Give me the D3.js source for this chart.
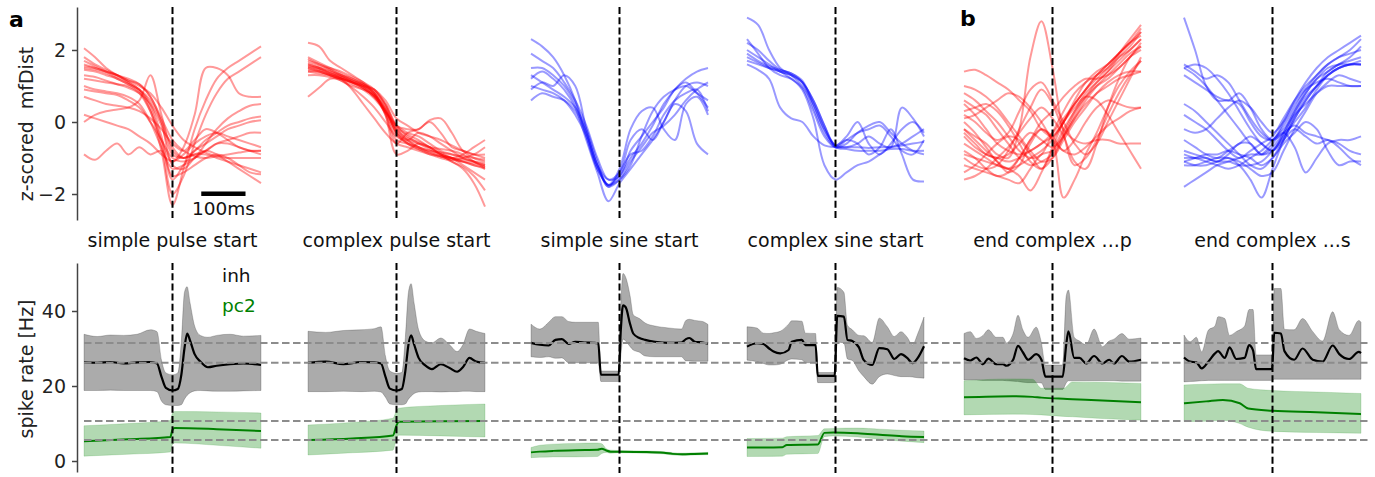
<!DOCTYPE html>
<html>
<head>
<meta charset="utf-8">
<script src="https://cdn.jsdelivr.net/npm/d3@7"></script>
<style>
  html, body { margin: 0; padding: 0; background: #fff; }
  svg { display: block; font-family: "DejaVu Sans", sans-serif; }
</style>
</head>
<body>
<svg id="chart" width="1375" height="477"></svg>
<script>
// ---- data: top row, z-scored mfDist traces (time in ms relative to event) ----
const traceTimes = [-200,-175,-150,-125,-100,-75,-50,-25,0,25,50,75,100,125,150,175,200];

const simplePulseTraces = [
  [1.6,1.5,1.4,1.3,1.15,1.0,0.8,0.4,-0.1,-0.5,-0.7,-0.85,-0.95,-1.0,-1.0,-1.0,-1.0],
  [1.7,1.55,1.4,1.25,1.1,0.9,0.5,-0.4,-1.6,-1.2,-0.8,-0.6,-0.4,-0.2,-0.1,0.0,0.05],
  [1.5,1.45,1.35,1.2,1.05,0.85,0.3,-0.8,-2.3,-1.3,-0.2,0.6,1.2,1.5,1.7,1.9,2.1],
  [1.55,1.5,1.4,1.3,1.1,0.9,0.4,-0.6,-2.0,-1.5,-0.6,0.2,0.8,1.2,1.4,1.6,1.8],
  [2.05,1.8,1.5,1.3,1.15,1.05,0.7,0.0,-1.2,-1.3,-1.0,-0.8,-0.9,-1.1,-1.3,-1.5,-1.7],
  [1.2,1.15,1.1,1.05,1.0,0.8,0.3,-0.5,-1.1,-0.7,0.2,1.5,1.5,1.3,0.8,0.7,0.7],
  [0.7,0.6,0.5,0.45,0.4,0.3,0.1,-0.2,-0.6,-0.8,-0.5,-0.2,-0.3,-0.5,-0.7,-0.8,-0.8],
  [0.2,0.1,0.0,-0.1,-0.2,-0.4,-0.6,-0.9,-1.1,-0.9,-0.6,-0.4,-0.3,-0.4,-0.5,-0.6,-0.7],
  [-0.9,-1.05,-0.8,-0.6,-0.9,-0.7,-0.9,-0.8,-1.5,-1.4,-1.2,-1.0,-0.9,-1.0,-1.2,-1.4,-1.45],
  [0.0,0.2,0.3,0.35,0.4,0.6,1.3,0.2,-0.8,-1.0,-0.9,-0.8,-0.6,-0.5,-0.4,-0.3,-0.3],
  [1.0,0.9,0.85,0.8,0.7,0.5,0.0,-0.7,-1.3,-1.2,-1.0,-0.6,-0.2,0.1,0.3,0.45,0.5],
  [1.3,1.25,1.15,1.05,0.95,0.8,0.5,-0.1,-0.9,-1.0,-0.9,-0.9,-1.0,-1.1,-1.2,-1.3,-1.4],
  [1.8,1.6,1.45,1.3,1.2,1.05,0.7,0.1,-0.5,-0.8,-0.95,-1.0,-0.95,-0.9,-0.85,-0.8,-0.8],
  [1.45,1.4,1.3,1.2,1.05,0.9,0.6,0.0,-0.7,-1.0,-0.8,-0.5,-0.3,-0.1,0.0,0.1,0.15],
  [0.9,0.85,0.8,0.75,0.6,0.4,0.0,-0.5,-1.0,-1.1,-1.0,-0.8,-0.6,-0.6,-0.7,-0.8,-0.9]
];

const complexPulseTraces = [
  [1.6,1.5,1.4,1.25,1.1,0.95,0.7,0.3,-0.2,-0.5,-0.7,-0.8,-0.9,-1.0,-1.05,-1.1,-1.15],
  [1.7,1.6,1.45,1.3,1.15,1.0,0.8,0.35,-0.3,-0.6,-0.75,-0.85,-0.95,-1.05,-1.1,-1.2,-1.25],
  [2.2,2.1,1.7,1.5,1.3,1.1,0.8,0.3,-0.1,-0.3,-0.4,-0.6,-0.8,-0.9,-1.0,-1.1,-1.2],
  [1.5,1.45,1.35,1.2,0.9,0.5,0.1,-0.3,-0.6,-0.7,-0.8,-0.9,-1.0,-1.1,-1.3,-1.7,-2.35],
  [1.4,1.35,1.3,1.2,1.1,1.0,0.9,0.5,-0.1,-0.2,-0.2,0.05,0.1,-0.3,-0.8,-1.0,-1.1],
  [0.7,0.95,1.2,1.2,1.1,1.0,0.75,0.2,-0.6,-0.3,-0.2,0.0,-0.3,-0.7,-0.8,-0.9,-0.9],
  [1.55,1.5,1.4,1.3,1.2,1.05,0.8,0.2,-0.9,-0.8,-0.6,-0.7,-0.9,-1.0,-1.2,-1.4,-1.6],
  [1.8,1.65,1.5,1.35,1.2,1.05,0.85,0.5,-0.1,-0.4,-0.6,-0.75,-0.9,-1.0,-0.9,-0.7,-0.5],
  [1.45,1.4,1.3,1.2,1.1,0.95,0.7,0.25,-0.5,-0.6,-0.7,-0.8,-0.85,-0.9,-0.95,-1.0,-1.05],
  [1.65,1.55,1.45,1.3,1.15,1.0,0.75,0.35,-0.2,-0.45,-0.55,-0.7,-0.85,-1.0,-1.1,-1.2,-1.3],
  [1.5,1.4,1.3,1.15,0.95,0.7,0.4,0.0,-0.4,-0.55,-0.7,-0.85,-0.95,-1.0,-1.1,-1.15,-1.2],
  [1.6,1.5,1.35,1.25,1.15,1.05,0.9,0.6,0.1,-0.1,-0.3,-0.4,-0.5,-0.65,-0.8,-0.9,-1.0],
  [1.3,1.3,1.25,1.15,1.0,0.9,0.75,0.4,-0.3,-0.5,-0.6,-0.7,-0.75,-0.8,-0.9,-1.1,-1.3],
  [1.75,1.6,1.5,1.4,1.25,1.1,0.9,0.45,-0.15,-0.35,-0.5,-0.7,-0.9,-1.1,-1.25,-1.5,-1.9],
  [1.55,1.45,1.35,1.25,1.1,0.95,0.7,0.3,-0.25,-0.5,-0.3,-0.4,-0.6,-0.8,-1.0,-1.1,-1.25],
  [1.4,1.4,1.3,1.2,1.05,0.9,0.65,0.25,-0.35,-0.6,-0.75,-0.9,-0.95,-1.05,-1.0,-0.9,-0.7]
];

const simpleSineTraces = [
  [2.3,2.1,1.8,1.3,0.6,-0.4,-1.3,-1.75,-1.6,-1.2,-0.4,0.3,0.7,0.9,1.0,0.8,0.6],
  [1.5,1.5,1.3,1.0,0.5,-0.3,-1.2,-1.75,-1.5,-1.0,-0.6,-0.1,0.5,0.9,1.2,1.4,1.5],
  [1.2,1.4,1.2,0.9,0.4,-0.5,-1.4,-2.2,-1.7,-1.3,-0.9,-0.5,0.0,0.6,1.0,1.1,1.0],
  [0.9,1.1,1.0,1.3,1.0,-0.2,-1.2,-1.6,-1.4,-0.5,-0.2,-0.5,0.0,0.5,0.3,-0.6,-0.9],
  [0.6,0.8,0.7,0.6,0.3,-0.3,-1.2,-1.8,-1.4,-0.9,-0.8,-0.4,0.2,0.6,0.8,0.9,0.3],
  [1.0,0.9,0.8,0.6,0.2,-0.4,-1.3,-1.75,-1.3,-0.2,0.3,0.4,-0.2,-0.5,0.5,0.7,0.2],
  [1.9,1.7,1.5,1.1,0.6,-0.1,-1.0,-1.6,-1.5,-0.8,-0.4,0.0,0.4,0.9,1.1,0.8,0.4],
  [1.3,1.1,0.9,0.7,0.4,-0.2,-1.1,-1.8,-1.6,-1.1,-0.7,-0.3,-0.1,0.2,0.6,0.9,1.1]
];

const complexSineTraces = [
  [2.9,2.7,2.0,1.5,1.3,1.0,0.5,-0.2,-0.65,-0.7,-0.7,-0.72,-0.7,-0.7,-0.65,-0.6,-0.55],
  [2.2,2.0,1.7,1.45,1.35,1.1,0.4,-0.3,-0.7,-0.6,-0.3,-0.1,0.0,-0.3,-0.6,-0.8,-0.9],
  [2.0,1.8,1.6,1.4,1.3,1.1,0.6,-0.1,-0.65,-0.5,-0.6,-0.9,-0.7,-0.2,-0.9,-1.6,-1.65],
  [1.7,1.6,1.5,1.4,1.3,1.1,0.6,-0.1,-0.7,-0.75,-0.8,-0.8,-0.8,-0.75,-0.75,-0.8,-0.8],
  [1.9,1.7,1.55,1.45,1.35,1.15,0.5,-0.2,-0.65,-0.4,0.0,-0.6,-0.9,-0.6,-0.2,0.0,-0.3],
  [1.6,1.45,1.2,0.4,0.1,0.0,-0.4,-0.65,-0.7,-0.7,-0.6,-0.4,-0.6,-0.7,0.4,0.1,-0.4],
  [2.3,1.9,1.5,1.3,1.2,0.9,0.1,-1.2,-1.6,-1.4,-1.2,-1.1,-0.9,-0.7,-0.6,-0.4,-0.2],
  [1.8,1.65,1.5,1.4,1.2,0.95,0.3,-0.4,-0.7,-0.5,-0.3,-0.2,-0.1,-0.4,-0.8,-0.9,-0.5]
];

const endPulseTraces = [
  [-0.2,-0.4,-0.6,-0.9,-1.0,-0.2,1.8,2.8,1.5,-0.3,-1.2,-1.0,-0.5,0.2,0.8,1.3,1.7],
  [1.4,1.45,1.3,1.1,0.9,0.6,0.3,-0.2,-0.4,0.0,0.6,1.1,1.4,1.6,1.9,2.2,2.5],
  [0.5,0.2,-0.2,-0.6,-0.8,-0.9,-0.8,-0.6,-0.4,0.0,0.5,0.9,1.3,1.6,1.9,2.2,2.6],
  [-0.3,-0.6,-0.9,-1.0,-1.1,-1.0,-0.8,-0.6,-0.3,0.1,0.5,0.9,1.3,1.6,1.9,2.2,2.4],
  [-1.6,-1.5,-1.3,-1.0,-0.7,-0.3,0.1,0.4,0.1,-0.4,-1.1,-1.3,-0.6,0.4,1.2,1.8,2.1],
  [0.0,-0.3,-0.7,-1.1,-1.3,-1.0,-0.5,-0.2,-0.5,-2.1,-1.6,-0.9,-0.3,0.4,1.0,1.4,1.7],
  [1.0,0.9,0.7,0.4,0.0,-0.4,-0.8,-1.1,-1.0,-0.5,0.0,0.4,0.8,1.1,1.3,1.4,1.4],
  [-0.6,-0.8,-1.0,-1.2,-1.3,-1.2,-1.0,-0.8,-0.5,0.0,0.4,0.7,0.6,0.2,-0.3,-0.8,-1.3],
  [0.1,0.2,0.4,0.6,0.8,0.7,0.4,0.0,-0.5,-0.8,-0.9,-0.7,-0.4,-0.1,0.1,0.3,0.4],
  [-1.0,-1.2,-1.3,-1.2,-0.8,-0.2,0.4,0.9,0.5,-0.2,-0.5,-0.6,-0.5,-0.5,-0.6,-0.6,-0.6],
  [0.6,0.4,0.2,-0.2,-0.6,-1.0,-1.2,-1.1,-0.9,-0.4,0.1,0.6,1.0,1.3,1.6,1.9,2.1],
  [-0.8,-1.0,-1.3,-1.5,-1.4,-1.0,-0.5,0.0,0.3,0.7,1.0,1.2,1.2,1.3,1.5,1.8,2.0],
  [-1.2,-1.3,-1.4,-1.5,-1.6,-1.7,-1.3,-0.9,-0.8,-0.3,0.3,0.8,1.1,1.4,1.7,2.0,2.3],
  [0.2,0.0,-0.3,-0.5,-0.3,0.3,0.9,1.1,0.6,0.0,-0.6,-0.9,-0.6,0.0,0.6,1.2,1.8],
  [-0.4,-0.7,-0.9,-1.0,-0.9,-0.6,-0.3,-0.5,-0.7,-0.4,0.1,0.5,0.8,1.0,1.2,1.3,1.4],
  [0.8,0.6,0.3,0.0,-0.4,-0.8,-1.0,-0.9,-0.3,0.3,0.8,1.1,1.3,1.5,1.8,2.0,2.3],
  [-1.4,-1.2,-0.9,-0.6,-0.4,-0.5,-0.9,-1.3,-1.0,-0.4,0.2,0.7,1.1,1.4,1.8,2.1,2.5],
  [0.3,0.4,0.5,0.3,-0.1,-0.6,-1.1,-1.3,-0.8,-0.2,0.3,0.7,1.0,1.2,1.5,1.8,2.2],
  [-0.2,-0.5,-0.8,-1.1,-1.4,-1.2,-0.6,-0.2,-0.4,-0.8,-0.5,0.0,0.4,0.6,0.5,0.4,0.4],
  [-0.9,-1.0,-1.1,-1.2,-1.3,-1.5,-1.9,-1.4,-0.7,0.0,0.5,0.9,1.2,1.5,1.9,2.3,2.7]
];

const endSineTraces = [
  [2.9,2.0,1.0,0.6,0.6,0.5,0.0,-0.4,-0.5,0.0,0.6,1.1,1.5,1.8,2.0,2.2,2.4],
  [1.5,1.6,1.5,1.2,0.8,0.3,-0.2,-0.6,-0.8,-0.3,0.3,0.8,1.2,1.5,1.6,1.6,1.6],
  [1.6,1.4,1.2,1.3,1.1,0.6,0.1,-0.3,-0.5,-0.1,0.4,0.9,1.3,1.6,1.8,2.0,2.3],
  [-0.2,-0.3,-0.2,0.1,0.4,0.6,0.4,0.0,-0.3,0.0,0.5,0.9,1.1,1.2,1.1,1.0,1.0],
  [-0.5,-0.7,-0.9,-1.0,-0.8,-0.6,-0.4,-0.6,-0.8,-0.5,-0.2,-0.4,-0.6,-0.5,-0.7,-1.0,-1.2],
  [-1.1,-1.2,-1.2,-1.1,-1.0,-1.2,-1.6,-2.1,-1.3,-0.5,0.1,0.6,1.0,1.3,1.5,1.6,1.7],
  [-1.0,-1.0,-1.1,-1.2,-1.3,-1.2,-1.0,-0.8,-0.5,-0.2,0.3,0.8,1.2,1.4,1.6,1.7,1.8],
  [-1.8,-1.6,-1.4,-1.2,-1.1,-1.0,-0.9,-0.9,-0.6,-0.3,-0.7,-1.4,-1.0,-0.6,-0.5,-0.5,-0.4],
  [0.2,0.0,-0.2,-0.5,-0.8,-1.0,-0.8,-0.6,-0.4,0.1,0.6,1.0,1.3,1.6,1.8,1.9,2.0],
  [-0.9,-1.0,-1.0,-1.1,-1.1,-1.2,-1.2,-1.1,-0.8,-0.4,0.0,0.4,0.9,1.3,1.5,1.6,1.6],
  [1.3,1.1,0.9,0.7,0.6,0.8,0.4,-0.2,-0.5,-0.3,-0.1,-0.3,-0.4,-0.5,-0.6,-0.8,-0.9],
  [-1.1,-1.0,-0.9,-0.9,-0.8,-0.9,-1.0,-1.2,-1.0,-0.6,-0.3,0.0,-0.2,-0.8,-1.2,-1.1,-1.1],
  [0.5,0.3,0.0,-0.3,-0.6,-0.9,-1.2,-1.3,-1.0,-0.5,0.1,0.6,1.0,1.4,1.6,1.8,2.1],
  [-0.8,-0.9,-1.0,-1.1,-0.9,-0.6,-0.6,-0.9,-0.7,-0.3,0.2,0.5,0.8,1.0,1.0,1.0,1.0],
  [1.5,1.3,1.0,0.6,0.2,-0.2,-0.6,-0.9,-0.8,-0.4,0.2,0.7,1.0,1.3,1.5,1.6,1.6],
  [-1.2,-1.2,-1.1,-1.0,-1.0,-1.1,-1.3,-1.5,-1.4,-0.8,-0.2,0.3,0.8,1.1,1.3,1.2,1.1]
];

const topLabels = ["simple pulse start", "complex pulse start", "simple sine start",
                   "complex sine start", "end complex ...p", "end complex ...s"];

// ---- data: bottom row, spike rates [Hz] (mean and band) ----
// sp = simple pulse, cp = complex pulse, ss = simple sine, cs = complex sine,
// ep = end complex ...p, es = end complex ...s
const spInhT    = [-200,-170,-140,-110,-80,-50,-35,-25,-15,0,12,20,27,33,40,50,63,80,100,130,160,200];
const spInhMean = [26.3,26.2,26.4,26.0,26.3,26.4,26.0,22.5,19.5,18.8,19.2,23,30,34,32,28.5,26.5,25,25.4,25.8,26,25.6];
const spInhHi   = [33.8,33.2,33.6,33.5,33.8,35,34.5,27,23.5,23,23.5,32,45,46.5,42,36,33.5,33,33.5,33.8,33.3,33.5];
const spInhLo   = [18.8,18.8,18.9,18.8,18.8,18.8,18.5,16,15,14.8,14.8,15,16.5,17.5,18.2,18.7,18.8,18.7,18.6,18.6,18.7,18.8];
const spPc2T    = [-200,-100,-5,0,5,100,200];
const spPc2Mean = [5.3,5.8,6.4,8.3,8.8,8.5,8.0];
const spPc2Hi   = [9.4,10.0,10.8,12.8,13.2,13.1,12.8];
const spPc2Lo   = [1.3,1.8,2.4,4.4,4.8,4.2,3.4];

const cpInhT    = [-200,-160,-120,-80,-50,-35,-25,-15,0,12,20,27,33,40,50,65,80,100,120,137,150,165,180,200];
const cpInhMean = [26.2,26.5,25.8,26.4,26.3,26.0,22.5,19.3,18.8,19.2,24,31,33.5,31,27.5,25.5,24.5,25.8,24.8,23.8,25,27.5,26.5,26.2];
const cpInhHi   = [34.6,34.3,34.8,35.0,35.3,35.8,28,24,23.4,23.6,33,45,47.3,42,35,32,31.5,32.8,31,29.2,31,35.2,34.6,34];
const cpInhLo   = [18.5,18.5,18.6,18.5,18.6,18.4,17,15.2,15,15,15.2,16.5,17.3,18,18.4,18.5,18.5,18.4,18.5,18.5,18.6,18.6,18.5,18.5];
const cpPc2T    = [-200,-100,-8,0,5,100,200];
const cpPc2Mean = [5.6,6.0,6.8,9.5,10.5,10.6,10.7];
const cpPc2Hi   = [9.6,10.3,11.4,13.5,14.1,14.8,15.2];
const cpPc2Lo   = [1.6,2.2,2.9,6.0,6.9,6.7,6.4];

const ssInhT    = [-200,-180,-160,-145,-130,-115,-100,-80,-60,-48,-42,-2,3,8,14,24,31,45,58,80,110,140,150,158,170,188,200];
const ssInhMean = [31.5,31.0,30.8,32.3,32.5,31.2,31.8,31.6,31.5,31.4,23,23,35,41.5,41,36.5,34,32.8,32.3,31.8,31.5,31.6,32.5,32.8,31.8,31.6,31.3];
const ssInhHi   = [36.5,35.2,37,38.5,38.5,37.2,37,37,37,37,24,24,42,50,49,44,39,38,36.8,36,35.5,35.2,37.5,37.8,37.5,37.2,36.4];
const ssInhLo   = [27.8,27.6,27.8,27.4,27.5,26.2,26.2,26.2,26.2,26.2,21.2,21.2,28,32.5,32,30.5,29.6,29,28,27.8,27.8,27.8,26.7,26.7,26.6,26.6,26.6];
const ssPc2T    = [-200,-180,-150,-100,-50,-40,-30,-20,0,50,100,120,142,170,200];
const ssPc2Mean = [2.3,2.5,2.7,2.9,3.0,3.3,2.8,2.5,2.5,2.4,2.2,1.9,1.8,1.9,2.0];
const ssPc2Hi   = [3.6,4.2,4.5,4.7,4.8,4.6,3.3,2.9,2.8,2.7,2.5,2.2,2.1,2.2,2.3];
const ssPc2Lo   = [0.9,1.0,1.1,1.1,1.2,2.0,2.3,2.1,2.2,2.1,1.9,1.6,1.5,1.6,1.7];

const csInhT    = [-200,-178,-163,-150,-140,-125,-106,-99,-76,-68,-45,-40,-2,4,19,27,38,53,64,83,99,117,133,148,162,174,186,200];
const csInhMean = [30.5,31.4,31.2,30.0,29.2,28.7,29.6,31.8,32.3,30.9,30.9,22.7,22.7,38.7,38.5,32.3,32.0,30.3,26.9,25.6,30.1,29.8,27.2,28.5,27.5,26.1,27.5,30.6];
const csInhHi   = [35.8,35.5,34.1,34.0,34.2,34.6,36.5,37.4,37.3,34.1,34.0,23.6,23.6,46.3,45,36.2,35,33.5,33.4,31.6,38.1,35.8,33.2,34.5,33,31,34,38.4];
const csInhLo   = [26.9,26.5,26.0,25.6,25.6,25.8,27,27.2,27,26.2,26.2,20.9,20.9,31.7,31.5,27.2,26.8,24,22.5,20.5,22.5,23.2,22.8,22.5,22.5,22.4,22.2,22.1];
const csPc2T    = [-200,-120,-110,-40,-25,-5,50,100,150,200];
const csPc2Mean = [3.6,3.7,4.3,4.4,7.5,7.6,7.4,7.0,6.6,6.4];
const csPc2Hi   = [6.0,6.1,6.5,6.8,8.6,8.7,8.8,8.5,8.2,8.0];
const csPc2Lo   = [1.2,1.3,1.8,2.0,6.5,6.7,6.4,5.8,5.3,4.9];

const epInhT    = [-200,-186,-172,-157,-145,-127,-112,-104,-89,-78,-67,-55,-37,-25,-16,23,31,36,49,61,76,94,113,128,139,157,173,200];
const epInhMean = [27.4,26.8,27.6,25.8,27.3,25.8,25.8,25.4,27,30.7,29,27,28.5,27,22.5,22.5,31,34.6,27.5,27.5,26,28,26,27,26,28,26.5,27];
const epInhHi   = [34,34.5,32.7,33.5,35,33,33,31.5,34,38.9,35,33,35.7,31.5,25.6,25.6,44,45.6,33,32,31,35.2,30.5,32,32.5,34,32.5,32.8];
const epInhLo   = [21.6,21.6,21.6,21.5,21.5,21.5,21.5,21.4,21.3,21.2,21.0,20.9,20.9,20.8,19.1,19.1,20.8,21.4,21.4,21.4,21.4,21.4,21.4,21.4,21.4,21.3,21.3,21.3];
const epPc2T    = [-200,-90,-45,-25,25,45,100,200];
const epPc2Mean = [17.0,17.3,17.1,16.9,16.6,16.5,16.2,15.7];
const epPc2Hi   = [21.4,21.9,21.8,19.4,19.4,21.1,21.0,20.7];
const epPc2Lo   = [12.3,12.5,12.4,12.3,11.9,11.8,11.4,10.9];

const esInhT    = [-200,-186,-172,-160,-145,-130,-123,-108,-97,-82,-63,-53,-44,-37,-1,4,19,27,49,68,91,113,136,151,173,195,200];
const esInhMean = [27.6,26.5,26.3,24.7,26.5,28.7,29.3,27.5,30.3,27.2,27.5,30.9,29.5,24.5,24.5,34.2,34.0,29.3,27,30,27,26.5,30.8,28.5,27.2,29.1,28.8];
const esInhHi   = [33.6,31.8,33,29.1,34.9,36,38.5,38,33.5,34.5,36,40.4,40.4,28.3,28.3,46,46,35.1,35,38,34.5,32,39.8,35,33.5,37.5,37];
const esInhLo   = [21.1,21.2,21.3,21.4,21.5,21.5,21.5,21.5,21.5,21.5,21.5,21.5,21.5,21.5,21.5,21.8,21.8,21.8,21.8,21.8,21.8,21.8,21.8,21.8,21.8,21.8,21.8];
const esPc2T    = [-200,-150,-112,-74,-55,0,100,200];
const esPc2Mean = [15.4,15.9,16.3,15.4,14.0,13.4,13.0,12.5];
const esPc2Hi   = [20.3,20.5,20.6,20.6,19.4,18.8,18.4,18.0];
const esPc2Lo   = [10.5,10.6,10.8,10.0,9.0,7.9,7.6,7.4];

// reference rate levels (dashed grey lines across the bottom row)
const refRates = [31.5, 26.2, 10.7, 5.6];

// ---- assemble ----
const topPanels = [
  { label: topLabels[0], color: "#ff0000", traces: simplePulseTraces },
  { label: topLabels[1], color: "#ff0000", traces: complexPulseTraces },
  { label: topLabels[2], color: "#0000ff", traces: simpleSineTraces },
  { label: topLabels[3], color: "#0000ff", traces: complexSineTraces },
  { label: topLabels[4], color: "#ff0000", traces: endPulseTraces },
  { label: topLabels[5], color: "#0000ff", traces: endSineTraces }
];

const rows = (t, mean, hi, lo) => t.map((v, i) => ({ t: v, mean: mean[i], hi: hi[i], lo: lo[i] }));
const bottomPanels = [
  { inh: rows(spInhT, spInhMean, spInhHi, spInhLo), pc2: rows(spPc2T, spPc2Mean, spPc2Hi, spPc2Lo) },
  { inh: rows(cpInhT, cpInhMean, cpInhHi, cpInhLo), pc2: rows(cpPc2T, cpPc2Mean, cpPc2Hi, cpPc2Lo) },
  { inh: rows(ssInhT, ssInhMean, ssInhHi, ssInhLo), pc2: rows(ssPc2T, ssPc2Mean, ssPc2Hi, ssPc2Lo) },
  { inh: rows(csInhT, csInhMean, csInhHi, csInhLo), pc2: rows(csPc2T, csPc2Mean, csPc2Hi, csPc2Lo) },
  { inh: rows(epInhT, epInhMean, epInhHi, epInhLo), pc2: rows(epPc2T, epPc2Mean, epPc2Hi, epPc2Lo) },
  { inh: rows(esInhT, esInhMean, esInhHi, esInhLo), pc2: rows(esPc2T, esPc2Mean, esPc2Hi, esPc2Lo) }
];

// ---- layout ----
const svg = d3.select("#chart");
const panelX = [84, 308, 531, 747, 964, 1184];
const panelW = 177;
const axisX = 77;

const topY = d3.scaleLinear().domain([-2.722, 3.194]).range([220, 7]);
const botY = d3.scaleLinear().domain([-2.933, 52.8]).range([472, 263]);
const xFor = i => d3.scaleLinear().domain([-200, 200]).range([panelX[i], panelX[i] + panelW]);

// bottom row: bands + means
bottomPanels.forEach((p, i) => {
  const x = xFor(i);
  const g = svg.append("g");
  const area = d3.area().x(d => x(d.t)).y0(d => botY(d.lo)).y1(d => botY(d.hi)).curve(d3.curveMonotoneX);
  const line = d3.line().x(d => x(d.t)).y(d => botY(d.mean)).curve(d3.curveMonotoneX);

  g.append("path").datum(p.inh).attr("d", area)
    .attr("fill", "#000").attr("fill-opacity", 0.33)
    .attr("stroke", "#000").attr("stroke-opacity", 0.2).attr("stroke-width", 1);
  g.append("path").datum(p.inh).attr("d", line)
    .attr("fill", "none").attr("stroke", "#000").attr("stroke-width", 2.2);

  g.append("path").datum(p.pc2).attr("d", area)
    .attr("fill", "#008000").attr("fill-opacity", 0.3)
    .attr("stroke", "#008000").attr("stroke-opacity", 0.15).attr("stroke-width", 1);
  g.append("path").datum(p.pc2).attr("d", line)
    .attr("fill", "none").attr("stroke", "#008000").attr("stroke-width", 2);
});

// grey dashed reference levels
svg.append("g").selectAll("line").data(refRates).join("line")
  .attr("x1", panelX[0]).attr("x2", 1370)
  .attr("y1", d => botY(d)).attr("y2", d => botY(d))
  .attr("stroke", "#8c8c8c").attr("stroke-width", 2)
  .attr("stroke-dasharray", "7.5,3.5");

// top row traces
topPanels.forEach((p, i) => {
  const x = xFor(i);
  const line = d3.line()
    .x((d, k) => x(traceTimes[k]))
    .y(d => topY(d))
    .curve(d3.curveCatmullRom);
  svg.append("g").selectAll("path").data(p.traces).join("path")
    .attr("d", line).attr("fill", "none")
    .attr("stroke", p.color).attr("stroke-opacity", 0.4).attr("stroke-width", 2);

  svg.append("text")
    .attr("x", x(0)).attr("y", 247)
    .attr("text-anchor", "middle")
    .attr("font-size", 19).attr("fill", "#111")
    .text(p.label);
});

// event markers (black dashed verticals)
panelX.forEach((px, i) => {
  const x = xFor(i);
  [[7, 220], [263, 473]].forEach(([y1, y2]) => {
    svg.append("line")
      .attr("x1", x(0)).attr("x2", x(0)).attr("y1", y1).attr("y2", y2)
      .attr("stroke", "#000").attr("stroke-width", 2)
      .attr("stroke-dasharray", "7,3.2");
  });
});

// axes
function styleAxis(g) {
  g.attr("font-family", null).attr("font-size", null);
  g.select(".domain").attr("stroke", "#444").attr("stroke-width", 1.5);
  g.selectAll(".tick line").attr("stroke", "#444").attr("stroke-width", 1.5);
  g.selectAll(".tick text").attr("font-size", 19).attr("fill", "#222");
}
svg.append("g").attr("transform", `translate(${axisX},0)`)
  .call(d3.axisLeft(topY).tickValues([-2, 0, 2]).tickFormat(d3.format("d"))
    .tickSize(5).tickSizeOuter(0).tickPadding(6))
  .call(styleAxis);
svg.append("g").attr("transform", `translate(${axisX},0)`)
  .call(d3.axisLeft(botY).tickValues([0, 20, 40]).tickFormat(d3.format("d"))
    .tickSize(5).tickSizeOuter(0).tickPadding(6))
  .call(styleAxis);

// axis titles
svg.append("text")
  .attr("transform", "translate(33,124) rotate(-90)")
  .attr("text-anchor", "middle").attr("font-size", 19).attr("fill", "#222")
  .style("white-space", "pre")
  .text("z-scored  mfDist");
svg.append("text")
  .attr("transform", "translate(33,369) rotate(-90)")
  .attr("text-anchor", "middle").attr("font-size", 19).attr("fill", "#222")
  .text("spike rate [Hz]");

// scale bar (100 ms) in first panel
const x0 = xFor(0);
svg.append("rect")
  .attr("x", x0(65)).attr("width", x0(165) - x0(65))
  .attr("y", topY(-1.93)).attr("height", 4.5)
  .attr("fill", "#000");
svg.append("text")
  .attr("x", x0(115)).attr("y", 215)
  .attr("text-anchor", "middle").attr("font-size", 18.5).attr("fill", "#111")
  .text("100ms");

// legend
svg.append("text").attr("x", 222).attr("y", 282)
  .attr("font-size", 18.5).attr("fill", "#111").text("inh");
svg.append("text").attr("x", 222).attr("y", 312)
  .attr("font-size", 18.5).attr("fill", "#008000").text("pc2");

// panel letters
svg.append("text").attr("x", 9).attr("y", 27)
  .attr("font-size", 22).attr("font-weight", "bold").attr("fill", "#000").text("a");
svg.append("text").attr("x", 960).attr("y", 26)
  .attr("font-size", 22).attr("font-weight", "bold").attr("fill", "#000").text("b");
</script>
</body>
</html>
